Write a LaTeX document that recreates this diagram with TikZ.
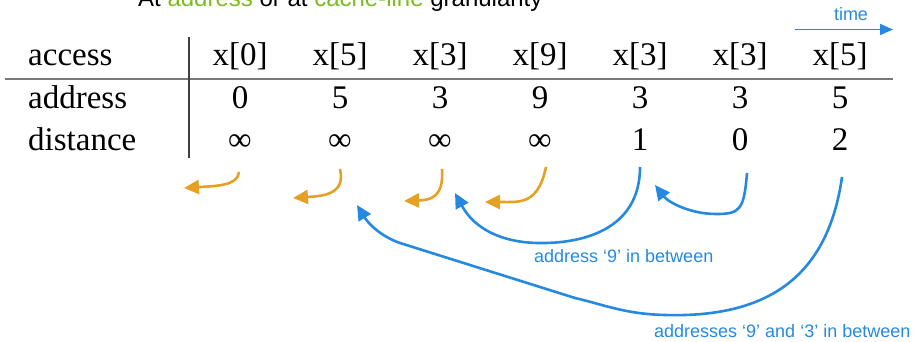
\documentclass[tikz,border=0pt]{standalone}
\usepackage{fontspec}
\setmainfont{Liberation Serif}
\newfontfamily\labelsans{Liberation Sans}
\usetikzlibrary{arrows.meta}

\definecolor{reuseblue}{RGB}{38,137,225}
\definecolor{coldorange}{RGB}{230,160,35}
\definecolor{headgreen}{RGB}{122,188,30}
\definecolor{rulegray}{RGB}{120,120,120}

\tikzset{
  cell/.style={anchor=base, inner sep=0pt, font=\fontsize{33}{36}\selectfont},
  rowhead/.style={anchor=base west, inner sep=0pt, font=\fontsize{33}{36}\selectfont},
  bluelabel/.style={anchor=base west, inner sep=0pt, text=reuseblue,
    font=\labelsans\fontsize{18}{20}\selectfont},
  coldarrow/.style={draw=coldorange, line width=2.6pt,
    -{Triangle[length=15pt,width=14pt]}, fill=none},
  reusearrow/.style={draw=reuseblue, line width=2.6pt,
    -{Triangle[length=15pt,width=14pt]}, fill=none},
}

\begin{document}
\begin{tikzpicture}[x=1pt,y=-1pt]
  \useasboundingbox (0,0) rectangle (919,341);
  \clip (0,0) rectangle (919,341);

  % heading line, mostly above the frame
  \node[anchor=base west, inner sep=0pt, font=\labelsans\fontsize{24}{26}\selectfont]
    (heading) at (138,6) {At \textcolor{headgreen}{address} or at \textcolor{headgreen}{cache-line} granularity};

  % time axis
  \coordinate (t0) at (795,29.5);
  \coordinate (t1) at (893,29.5);
  \draw[reuseblue, line width=1.6pt, -{Triangle[length=13pt,width=11pt]}] (t0) -- (t1);
  \node[anchor=base, inner sep=0pt, text=reuseblue,
        font=\labelsans\fontsize{18}{20}\selectfont] (timelbl) at (851,20) {time};

  % table rules
  \coordinate (hl) at (5,79);
  \coordinate (hr) at (893,79);
  \coordinate (vt) at (189,37);
  \coordinate (vb) at (189,158);
  \draw[rulegray, line width=2pt] (hl) -- (hr);
  \draw[black!75, line width=1.3pt] (vt) -- (vb);

  % row headers
  \node[rowhead] (hacc)  at (28,65)  {access};
  \node[rowhead] (haddr) at (28,108) {address};
  \node[rowhead] (hdist) at (28,150) {distance};

  % columns: access, address, reuse distance
  \foreach \i/\acc/\adr/\dst in {0/0/0/∞, 1/5/5/∞, 2/3/3/∞, 3/9/9/∞, 4/3/3/1, 5/3/3/0, 6/5/5/2} {
    \node[cell] (a\i) at (240+100*\i,65)  {x[\acc]};
    \node[cell] (r\i) at (240+100*\i,108) {\adr};
    \node[cell] (d\i) at (240+100*\i,150) {\dst};
  }

  % first-touch accesses
  \coordinate (o0s) at (239,172);  \coordinate (o0e) at (184,188);
  \coordinate (o1s) at (340,169);  \coordinate (o1e) at (293,198);
  \coordinate (o2s) at (442,169);  \coordinate (o2e) at (404,201);
  \coordinate (o3s) at (546,167);  \coordinate (o3e) at (485,202);
  \draw[coldarrow] (o0s) .. controls (238,186) and (215,186) .. (o0e);
  \draw[coldarrow] (o1s) .. controls (346,195) and (322,196) .. (o1e);
  \draw[coldarrow] (o2s) .. controls (444,198) and (430,200) .. (o2e);
  \draw[coldarrow] (o3s) .. controls (538,205) and (520,202) .. (o3e);

  % reuse arcs
  \coordinate (b4s) at (640,167);  \coordinate (b4e) at (455,193);
  \coordinate (b5s) at (747,173);  \coordinate (b5e) at (655,185);
  \coordinate (b6s) at (842,177);  \coordinate (b6e) at (357,205);
  \draw[reusearrow] (b4s) .. controls (640,230) and (582,244) .. (537,243)
                          .. controls (500,242) and (474,228) .. (b4e);
  \draw[reusearrow] (b5s) .. controls (744,210) and (740,214) .. (716,214)
                          .. controls (690,214) and (668,202) .. (b5e);
  \draw[reusearrow] (b6s) .. controls (828,275) and (770,318) .. (665,315)
                          .. controls (625,314) and (605,305) .. (575,298)
                          -- (400,243)
                          .. controls (380,236) and (368,223) .. (b6e);

  \node[bluelabel] (lbl9)  at (534,262) {address ‘9’ in between};
  \node[bluelabel] (lbl93) at (654,337) {addresses ‘9’ and ‘3’ in between};
\end{tikzpicture}
\end{document}
